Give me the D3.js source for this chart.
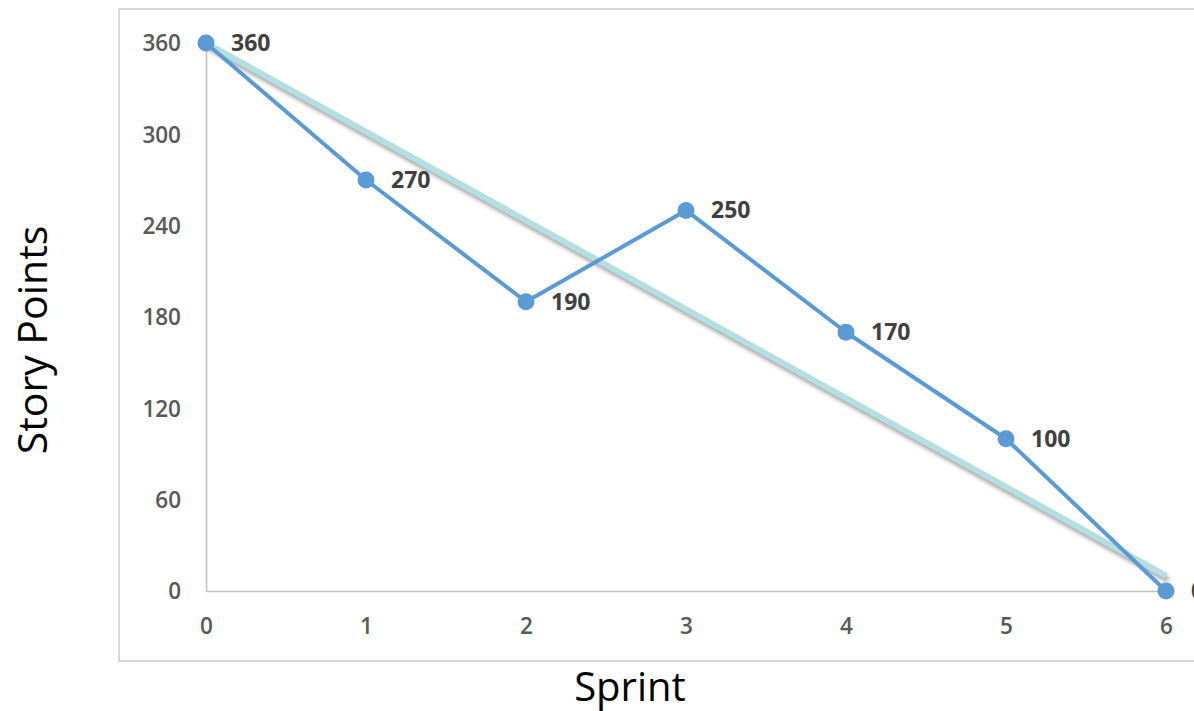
<!DOCTYPE html>
<html>
<head>
<meta charset="utf-8">
<script src="https://cdn.jsdelivr.net/npm/d3@7"></script>
<style>
  body { margin: 0; background: #fff; }
  text { font-family: "Open Sans", sans-serif; }
</style>
</head>
<body>
<script>
var width = 1194;
var height = 711;

// chart values
var sprints = [0, 1, 2, 3, 4, 5, 6];
var actualPoints = [360, 270, 190, 250, 170, 100, 0];
var idealSprints = [0, 6];
var idealPoints = [360, 10];
var yTicks = [0, 60, 120, 180, 240, 300, 360];

var svg = d3.select("body").append("svg")
  .attr("width", width)
  .attr("height", height);

var defs = svg.append("defs");
var shadow = defs.append("filter")
  .attr("id", "shadow")
  .attr("x", "-10%").attr("y", "-10%")
  .attr("width", "120%").attr("height", "120%");
shadow.append("feGaussianBlur").attr("stdDeviation", 2);

var xScale = d3.scaleLinear()
  .domain([0, 6])
  .range([206, 1166]);

var yScale = d3.scaleLinear()
  .domain([0, 360])
  .range([591, 43]);

// chart border
svg.append("rect")
  .attr("x", 119)
  .attr("y", 9)
  .attr("width", 1200)
  .attr("height", 652)
  .attr("fill", "none")
  .attr("stroke", "#d9d9d9")
  .attr("stroke-width", 2);

var xAxis = svg.append("g")
  .attr("transform", "translate(0," + yScale(0) + ")")
  .call(d3.axisBottom(xScale).tickValues(sprints).tickSize(0).tickPadding(27).tickFormat(d3.format("d")));

var yAxis = svg.append("g")
  .attr("transform", "translate(" + xScale(0) + ",0)")
  .call(d3.axisLeft(yScale).tickValues(yTicks).tickSize(0).tickPadding(25));

[xAxis, yAxis].forEach(function(g) {
  g.select(".domain").attr("stroke", "#bfbfbf").attr("stroke-width", 1.5);
  g.selectAll("text")
    .attr("fill", "#595959")
    .style("font-size", "22.5px")
    .style("font-weight", 600)
    .style("font-family", "'Open Sans', sans-serif");
});
yAxis.selectAll("text").attr("dy", "0.35em");

// ideal line
var idealData = idealSprints.map(function(d, i) { return [d, idealPoints[i]]; });
var idealLine = d3.line()
  .x(function(d) { return xScale(d[0]); })
  .y(function(d) { return yScale(d[1]); });

svg.append("path")
  .datum(idealData)
  .attr("d", idealLine)
  .attr("transform", "translate(2,4)")
  .attr("fill", "none")
  .attr("stroke", "#7f7f7f")
  .attr("stroke-opacity", 0.8)
  .attr("stroke-width", 5)
  .attr("filter", "url(#shadow)");

svg.append("path")
  .datum(idealData)
  .attr("d", idealLine)
  .attr("fill", "none")
  .attr("stroke", "#b4dfe0")
  .attr("stroke-width", 6);

// actual line
var actualLine = d3.line()
  .x(function(d, i) { return xScale(sprints[i]); })
  .y(function(d) { return yScale(d); });

svg.append("path")
  .datum(actualPoints)
  .attr("d", actualLine)
  .attr("fill", "none")
  .attr("stroke", "#5b9bd5")
  .attr("stroke-width", 4)
  .attr("stroke-linejoin", "round");

svg.selectAll("circle")
  .data(actualPoints)
  .enter()
  .append("circle")
  .attr("cx", function(d, i) { return xScale(sprints[i]); })
  .attr("cy", function(d) { return yScale(d); })
  .attr("r", 8.5)
  .attr("fill", "#5b9bd5");

svg.selectAll(".label")
  .data(actualPoints)
  .enter()
  .append("text")
  .attr("class", "label")
  .attr("x", function(d, i) { return xScale(sprints[i]) + 25; })
  .attr("y", function(d) { return yScale(d); })
  .attr("dy", "0.35em")
  .attr("fill", "#404040")
  .style("font-size", "23px")
  .style("font-weight", 700)
  .text(function(d) { return d; });

// axis titles
svg.append("text")
  .attr("x", 630)
  .attr("y", 701)
  .attr("text-anchor", "middle")
  .attr("fill", "#000")
  .style("font-size", "40px")
  .text("Sprint");

svg.append("text")
  .attr("transform", "translate(47,340) rotate(-90)")
  .attr("text-anchor", "middle")
  .attr("fill", "#000")
  .style("font-size", "41px")
  .text("Story Points");
</script>
</body>
</html>
